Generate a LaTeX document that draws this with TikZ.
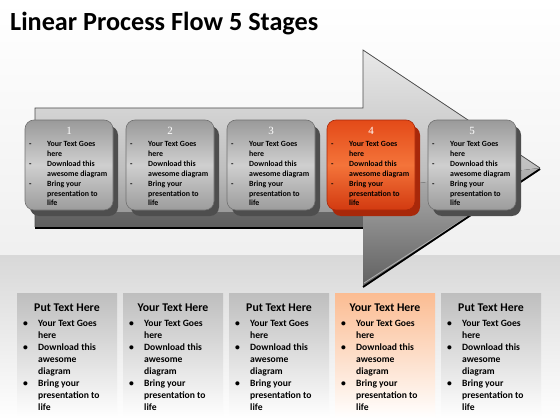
\documentclass[tikz,border=0pt]{standalone}
\usepackage{fontspec}
\setmainfont{Carlito}
\newfontfamily\numfont{Liberation Serif}

\definecolor{boxtop}{HTML}{9A9A9A}
\definecolor{boxmid}{HTML}{CFCFCF}
\definecolor{boxbot}{HTML}{9C9C9C}
\definecolor{boxshade}{HTML}{4E4E4E}
\definecolor{redtop}{HTML}{E34A18}
\definecolor{redmid}{HTML}{F4743A}
\definecolor{redbot}{HTML}{D23A10}
\definecolor{redshade}{HTML}{A8280A}
\definecolor{paneltop}{HTML}{BEBEBE}
\definecolor{peachtop}{HTML}{FBBC92}
\definecolor{bandgray}{HTML}{D8D8D8}

% lines of a stage box
\newcommand{\stagelines}{\begin{tabular}[t]{@{}p{18pt}@{}l@{}}
-&Your Text Goes\\ &here\\ -&Download this\\ &awesome diagram\\
-&Bring your\\ &presentation to\\ &life\end{tabular}}
% lines of a bottom panel
\newcommand{\panellines}{\begin{tabular}[t]{@{}p{15pt}@{}l@{}}
\textbullet&Your Text Goes\\ &here\\ \textbullet&Download this\\ &awesome\\ &diagram\\
\textbullet&Bring your\\ &presentation to\\ &life\end{tabular}}

\begin{document}
\begin{tikzpicture}[x=1pt,y=-1pt,
  stagebox/.style={draw=boxshade!80,line width=0.6pt,rounded corners=9pt,
    top color=boxtop,bottom color=boxbot,middle color=boxmid},
  stageshadow/.style={fill=boxshade,rounded corners=9pt},
  redbox/.style={stagebox,draw=redshade,top color=redtop,bottom color=redbot,middle color=redmid},
  redshadow/.style={fill=redshade,rounded corners=9pt},
  stagenum/.style={text=white,font=\numfont\fontsize{11}{12}\selectfont,inner sep=0pt},
  stagetext/.style={anchor=base west,inner sep=0pt,font=\bfseries\fontsize{7.9}{9.9}\selectfont},
  panel/.style={top color=paneltop,bottom color=white},
  peachpanel/.style={top color=peachtop,bottom color=white},
  paneltitle/.style={font=\bfseries\fontsize{11.8}{13}\selectfont,inner sep=0pt},
  paneltext/.style={anchor=base west,inner sep=0pt,font=\bfseries\fontsize{9.6}{12}\selectfont}]
\useasboundingbox (0,0) rectangle (560,420);
% background
\fill[top color=white,bottom color=gray!12] (0,0) rectangle (560,255);
\fill[top color=bandgray,bottom color=white] (0,255) rectangle (560,420);
\node[anchor=base west,inner sep=0pt,font=\bfseries\fontsize{26.2}{30}\selectfont] (title) at (10,31) {Linear Process Flow 5 Stages};
% big arrow
\path[top color=gray!18,bottom color=gray!70!black,middle color=gray!50]
  (35,108) -- (363,108) -- (363,50) -- (540,168) -- (363,287) -- (363,227) -- (35,227) -- cycle;
\fill[top color=gray!60,bottom color=gray!75!black] (363,190) -- (540,168) -- (363,287) -- cycle;
\fill[gray!40!black,opacity=0.5] (35,212) rectangle (363,227);
\draw[gray!60!black,line width=0.8pt] (35,227) -- (35,108) -- (363,108) -- (363,50) -- (540,168);
\draw[gray!60,line width=0.8pt] (538,171) -- (364,283);
\draw[black,line width=1.8pt] (540,169) -- (363,287);
\draw[black,line width=1.8pt] (35,228) -- (363,228);
% stage 1
\path[stageshadow] (30,126) rectangle (118,216);
\path[stagebox] (25,120) rectangle (113,210);
\node[stagenum] (n1) at (69,131) {1};
\node[stagetext] (s1) at (29,146.5) {\stagelines};
% stage 2
\path[stageshadow] (131,126) rectangle (219,216);
\path[stagebox] (126,120) rectangle (214,210);
\node[stagenum] (n2) at (170,131) {2};
\node[stagetext] (s2) at (130,146.5) {\stagelines};
% stage 3
\path[stageshadow] (232,126) rectangle (320,216);
\path[stagebox] (227,120) rectangle (315,210);
\node[stagenum] (n3) at (271,131) {3};
\node[stagetext] (s3) at (231,146.5) {\stagelines};
% stage 4
\path[redshadow] (332,126) rectangle (420,216);
\path[redbox] (327,120) rectangle (415,210);
\node[stagenum] (n4) at (371,131) {4};
\node[stagetext] (s4) at (331,146.5) {\stagelines};
% stage 5
\path[stageshadow] (433,126) rectangle (521,216);
\path[stagebox] (428,120) rectangle (516,210);
\node[stagenum] (n5) at (472,131) {5};
\node[stagetext] (s5) at (432,146.5) {\stagelines};
% bottom panels
\path[panel] (17,293) rectangle (117,418);
\node[paneltitle] (t1) at (67,308) {Put Text Here};
\node[paneltext] (p1) at (23,326) {\panellines};
\path[panel] (123,293) rectangle (223,418);
\node[paneltitle] (t2) at (173,308) {Your Text Here};
\node[paneltext] (p2) at (129,326) {\panellines};
\path[panel] (229,293) rectangle (329,418);
\node[paneltitle] (t3) at (279,308) {Put Text Here};
\node[paneltext] (p3) at (235,326) {\panellines};
\path[peachpanel] (335,293) rectangle (435,418);
\node[paneltitle] (t4) at (385,308) {Your Text Here};
\node[paneltext] (p4) at (341,326) {\panellines};
\path[panel] (441,293) rectangle (541,418);
\node[paneltitle] (t5) at (491,308) {Put Text Here};
\node[paneltext] (p5) at (447,326) {\panellines};
\end{tikzpicture}
\end{document}
